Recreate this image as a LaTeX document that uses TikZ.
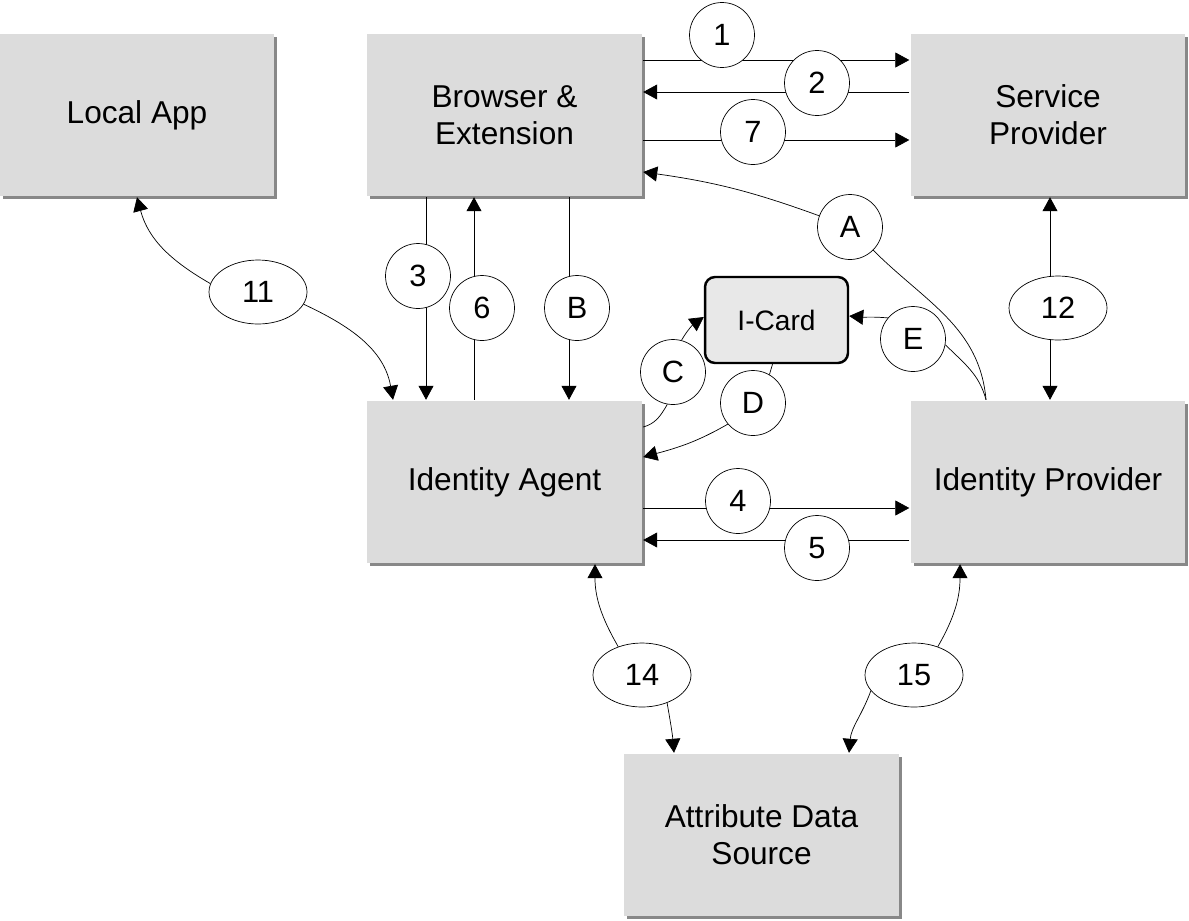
\documentclass[tikz,border=0pt]{standalone}
\usepackage{fontspec}
\setmainfont{Liberation Sans}
\usetikzlibrary{arrows.meta,shadows,shapes.geometric}
\pgfdeclarelayer{foreground}
\pgfsetlayers{main,foreground}
\definecolor{boxgray}{RGB}{220,220,220}
\definecolor{shadowgray}{RGB}{136,136,136}
\definecolor{cardgray}{RGB}{232,232,232}

\begin{document}
\begin{tikzpicture}[
        x=0.02cm, y=-0.02cm,
        line width=1.4pt,
        box/.style={fill=boxgray, align=center, minimum width=5.5cm, minimum height=3.24cm, inner sep=0pt,
            font=\fontsize{18}{21}\selectfont,
            drop shadow={shadow xshift=0.06cm, shadow yshift=-0.06cm, fill=shadowgray, opacity=1}},
        card/.style={draw, fill=cardgray, rounded corners=0.2cm, minimum width=2.86cm, minimum height=1.72cm, font=\fontsize{16}{19}\selectfont},
        num/.style={draw, circle, fill=white, minimum size=1.3cm, inner sep=0pt, font=\fontsize{17.5}{20}\selectfont},
        oval/.style={draw, ellipse, fill=white, minimum width=1.96cm, minimum height=1.28cm, inner sep=0pt, font=\fontsize{17.5}{20}\selectfont},
        arrow/.style={-{Triangle[length=0.28cm,width=0.3cm]}},
        dblarrow/.style={{Triangle[length=0.28cm,width=0.3cm]}-{Triangle[length=0.28cm,width=0.3cm]}}
        ]
        \useasboundingbox (0,0) rectangle (1189,920);

        \node[box] (la) at (137,115) {Local App};
        \node[box] (br) at (504.5,115) {Browser \&\\Extension};
        \node[box] (sp) at (1048,115) {Service\\Provider};
        \node[box] (ia) at (504.5,482) {Identity Agent};
        \node[box] (ip) at (1048,482) {Identity Provider};
        \node[box] (ads) at (761.5,835) {Attribute Data\\Source};
        \node[card] (card) at (776.5,320) {I-Card};

        \begin{pgfonlayer}{foreground}
        \node[num] (n1) at (722,35) {1};
        \node[num] (n2) at (817,83) {2};
        \node[num] (n7) at (753,132) {7};
        \node[num] (nA) at (850,227) {A};
        \node[num] (n3) at (418,276) {3};
        \node[num] (n6) at (482,308) {6};
        \node[num] (nB) at (577,308) {B};
        \node[num] (nC) at (673,372) {C};
        \node[num] (nD) at (753,403) {D};
        \node[num] (nE) at (913,339) {E};
        \node[num] (n4) at (738,501) {4};
        \node[num] (n5) at (817,548) {5};
        \node[oval] (n11) at (258,292) {11};
        \node[oval] (n12) at (1058,308) {12};
        \node[oval] (n14) at (642,675) {14};
        \node[oval] (n15) at (914,675) {15};
        \end{pgfonlayer}

        \draw[arrow] ([yshift=1.1cm]br.east) -- ([yshift=1.1cm]sp.west);
        \draw[arrow] ([yshift=0.46cm]sp.west) -- ([yshift=0.46cm]br.east);
        \draw[arrow] ([yshift=-0.5cm]br.east) -- ([yshift=-0.5cm]sp.west);

        \draw[arrow] ([xshift=-1.57cm]br.south) -- ([xshift=-1.57cm]ia.north);
        \draw[arrow] ([xshift=-0.61cm]ia.north) -- ([xshift=-0.61cm]br.south);
        \draw[arrow] ([xshift=1.29cm]br.south) -- ([xshift=1.29cm]ia.north);

        \draw[arrow] ([yshift=-0.52cm]ia.east) -- ([yshift=-0.52cm]ip.west);
        \draw[arrow] ([yshift=-1.16cm]ip.west) -- ([yshift=-1.16cm]ia.east);

        \draw[dblarrow] ([xshift=0.04cm]sp.south) -- ([xshift=0.04cm]ip.north);

        \draw[arrow] (n11.170) to[out=150, in=-75] (la.south);
        \draw[arrow] (n11.-15) to[out=-25, in=100] ([xshift=-2.23cm]ia.north);

        \draw ([xshift=-1.24cm]ip.north) to[out=95, in=-45] (nA);
        \draw[arrow] (nA) to[out=160, in=-8] ([yshift=-1.14cm]br.east);
        \draw ([xshift=-1.24cm]ip.north) to[out=105, in=-45] (nE.-10);
        \draw[arrow] (nE.140) to[out=175, in=-5] ([yshift=0.08cm]card.east);

        \draw ([yshift=1.1cm]ia.east) to[out=15, in=-120] (nC.-100);
        \draw[arrow] (nC.75) to[out=60, in=-145] ([yshift=0.06cm]card.west);
        \draw ([xshift=-0.08cm]card.south) -- (nD.60);
        \draw[arrow] (nD.220) to[out=-150, in=15] ([yshift=0.5cm]ia.east);

        \draw[arrow] (n14.130) to[out=120, in=-90] ([xshift=1.81cm]ia.south);
        \draw[arrow] (n14.-48) to[out=-80, in=95] ([xshift=-1.75cm]ads.north);
        \draw[arrow] (n15.50) to[out=60, in=-90] ([xshift=-1.76cm]ip.south);
        \draw[arrow] (n15.200) to[out=-110, in=85] ([xshift=1.75cm]ads.north);
    \end{tikzpicture}
\end{document}
